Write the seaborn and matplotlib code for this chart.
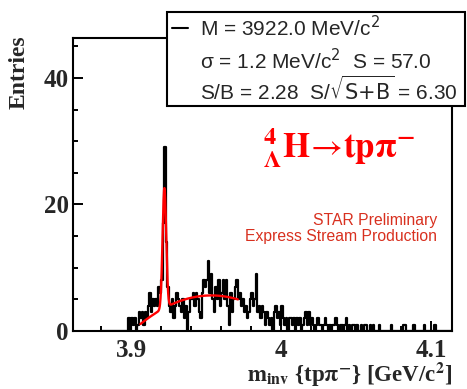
import numpy as np
import pandas as pd
import matplotlib
matplotlib.use("Agg")
import matplotlib.pyplot as plt
import seaborn as sns
from matplotlib.patches import Rectangle
from matplotlib.lines import Line2D
from matplotlib.ticker import MultipleLocator

# ---------------- data ----------------
hist_start = 3.880      # GeV/c^2, lower edge of first bin
bin_width = 0.001       # GeV/c^2
seg_3880 = [0, 0, 0, 0, 0, 0, 0, 0, 0, 0, 0, 0, 0, 0, 0, 0, 0, 0, 2, 0]
seg_3900 = [2, 1, 2, 0, 1, 3, 2, 3, 1, 3, 2, 4, 6, 3, 5, 4, 5, 4, 7, 6]
seg_3920 = [8, 17, 29, 14, 7, 4, 3, 5, 2, 4, 6, 5, 4, 3, 5, 2, 4, 0, 3, 5]
seg_3940 = [5, 6, 4, 6, 5, 3, 2, 6, 8, 7, 8, 11, 6, 9, 5, 3, 7, 5, 8, 4]
seg_3960 = [6, 8, 5, 8, 4, 1, 6, 3, 5, 7, 8, 5, 6, 4, 5, 3, 4, 2, 3, 5]
seg_3980 = [6, 4, 5, 9, 3, 4, 2, 4, 3, 1, 3, 2, 1, 2, 0, 3, 4, 2, 3, 1]
seg_4000 = [4, 2, 1, 2, 0, 2, 2, 1, 2, 0, 2, 1, 2, 0, 1, 2, 3, 1, 3, 1]
seg_4020 = [2, 1, 0, 1, 2, 1, 1, 0, 1, 2, 1, 0, 1, 0, 1, 1, 2, 1, 0, 1]
seg_4040 = [1, 0, 1, 2, 0, 1, 0, 1, 1, 0, 1, 0, 0, 1, 0, 1, 1, 0, 0, 1]
seg_4060 = [0, 1, 0, 0, 0, 1, 0, 0, 0, 0, 0, 0, 0, 1, 0, 0, 0, 0, 0, 0]
seg_4080 = [0, 1, 1, 0, 0, 0, 0, 0, 1, 0, 0, 0, 0, 0, 0, 1, 0, 0, 0, 0]
seg_4100 = [0, 0, 1, 0, 0, 0, 0, 0, 0, 0, 0, 0, 0, 0]

# fit parameters (Gaussian + quadratic background)
fit_mass = 3.9220
fit_sigma = 0.0012
fit_signal = 57.0
fit_range = [3.906, 3.971]
bkg_coef = [1.1, 190.8, -2013.0]   # in t = x - fit_range[0]

xtick_vals = [3.9, 4.0, 4.1]
xtick_labels = ["3.9", "4", "4.1"]
ytick_vals = [0, 20, 40]
ytick_labels = ["0", "20", "40"]

legend_lines = [r"M = 3922.0 MeV/c$^{2}$",
                r"σ = 1.2 MeV/c$^{2}$  S = 57.0",
                r"S/B = 2.28  S/$\sqrt{\mathsf{S}{+}\mathsf{B}}$ = 6.30"]
title_text = r"${}^{\mathbf{4}}_{\mathbf{\Lambda}}\mathbf{H}\!\rightarrow\!\mathbf{tp}\mathbf{\pi}^{\mathbf{-}}$"
star_lines = ["STAR Preliminary", "Express Stream Production"]
xlabel_text = r"$\mathbf{m}_{\mathbf{inv}}$ {tp$\mathbf{\pi}^{\mathbf{-}}$} [GeV/c$^{\mathbf{2}}$]"
ylabel_text = "Entries"

# ---------------- build ----------------
counts = np.array(seg_3880 + seg_3900 + seg_3920 + seg_3940 + seg_3960 + seg_3980 +
                  seg_4000 + seg_4020 + seg_4040 + seg_4060 + seg_4080 + seg_4100, dtype=float)
edges = hist_start + bin_width * np.arange(len(counts) + 1)
centers = 0.5 * (edges[:-1] + edges[1:])
df = pd.DataFrame({"mass": centers, "entries": counts})

xf = np.linspace(fit_range[0], fit_range[1], 800)
amp = fit_signal * bin_width / (np.sqrt(2 * np.pi) * fit_sigma)
t = xf - fit_range[0]
yf = amp * np.exp(-0.5 * ((xf - fit_mass) / fit_sigma) ** 2) + bkg_coef[0] + bkg_coef[1] * t + bkg_coef[2] * t ** 2
fit_df = pd.DataFrame({"mass": xf, "fit": yf})

sns.set_style("ticks")
plt.rcParams["font.family"] = ["Liberation Sans", "DejaVu Sans"]

W, H = 467, 389
fig = plt.figure(figsize=(W / 100, H / 100), dpi=100)


def fx(x):
    return x / W


def fy(y):
    return 1 - y / H


ax = fig.add_axes([fx(73), fy(331), fx(452) - fx(73), fy(38) - fy(331)])

sns.histplot(data=df, x="mass", weights="entries", bins=[float(e) for e in edges],
             element="step", fill=False, color="black", linewidth=1.6, ax=ax)
sns.lineplot(data=fit_df, x="mass", y="fit", color="red", linewidth=1.7,
             estimator=None, sort=False, ax=ax)

ax.set_xlim(3.861, 4.114)
ax.set_ylim(0, 46.3)
ax.set_xticks(xtick_vals)
ax.set_xticklabels(xtick_labels)
ax.set_yticks(ytick_vals)
ax.set_yticklabels(ytick_labels)
ax.xaxis.set_minor_locator(MultipleLocator(0.02))
ax.yaxis.set_minor_locator(MultipleLocator(5))
ax.tick_params(which="both", direction="in", top=False, right=False, width=1.4, color="black")
ax.tick_params(which="major", length=7)
ax.tick_params(which="minor", length=3.6)
ax.tick_params(axis="x", which="major", pad=6)
ax.tick_params(axis="y", which="major", pad=3)
for lbl in ax.get_xticklabels() + ax.get_yticklabels():
    lbl.set_fontfamily("Liberation Serif")
    lbl.set_fontweight("bold")
    lbl.set_fontsize(18)
for s in ax.spines.values():
    s.set_visible(True)
    s.set_linewidth(1.5)
    s.set_color("black")
ax.set_xlabel("")
ax.set_ylabel("")

# axis titles
fig.text(fx(19), fy(72), ylabel_text, rotation=90, ha="center", va="center",
         family="Liberation Serif", weight="bold", size=17)
fig.text(fx(452), fy(382), xlabel_text, ha="right", va="baseline",
         family="Liberation Serif", weight="bold", size=16.5, math_fontfamily="stix")

# decay title
fig.text(fx(263), fy(158), title_text, ha="left", va="baseline", color="red",
         size=25, math_fontfamily="stix")

# STAR labels
fig.text(fx(437), fy(220), star_lines[0], ha="right", va="center", color="#d8301f", size=11.3)
fig.text(fx(437), fy(236), star_lines[1], ha="right", va="center", color="#d8301f", size=11.3)

# legend box
rect = Rectangle((fx(167), fy(106)), fx(465) - fx(167), fy(12) - fy(106),
                 transform=fig.transFigure, facecolor="white", edgecolor="black",
                 linewidth=1.5, zorder=5)
fig.add_artist(rect)
fig.add_artist(Line2D([fx(172), fx(188)], [fy(28), fy(28)], transform=fig.transFigure,
                      color="black", linewidth=1.5, zorder=6))
for yy, txt in zip([28, 61, 90], legend_lines):
    fig.text(fx(200), fy(yy), txt, ha="left", va="center", size=15, zorder=7,
             math_fontfamily="dejavusans")

fig.savefig("out.png", dpi=100)
